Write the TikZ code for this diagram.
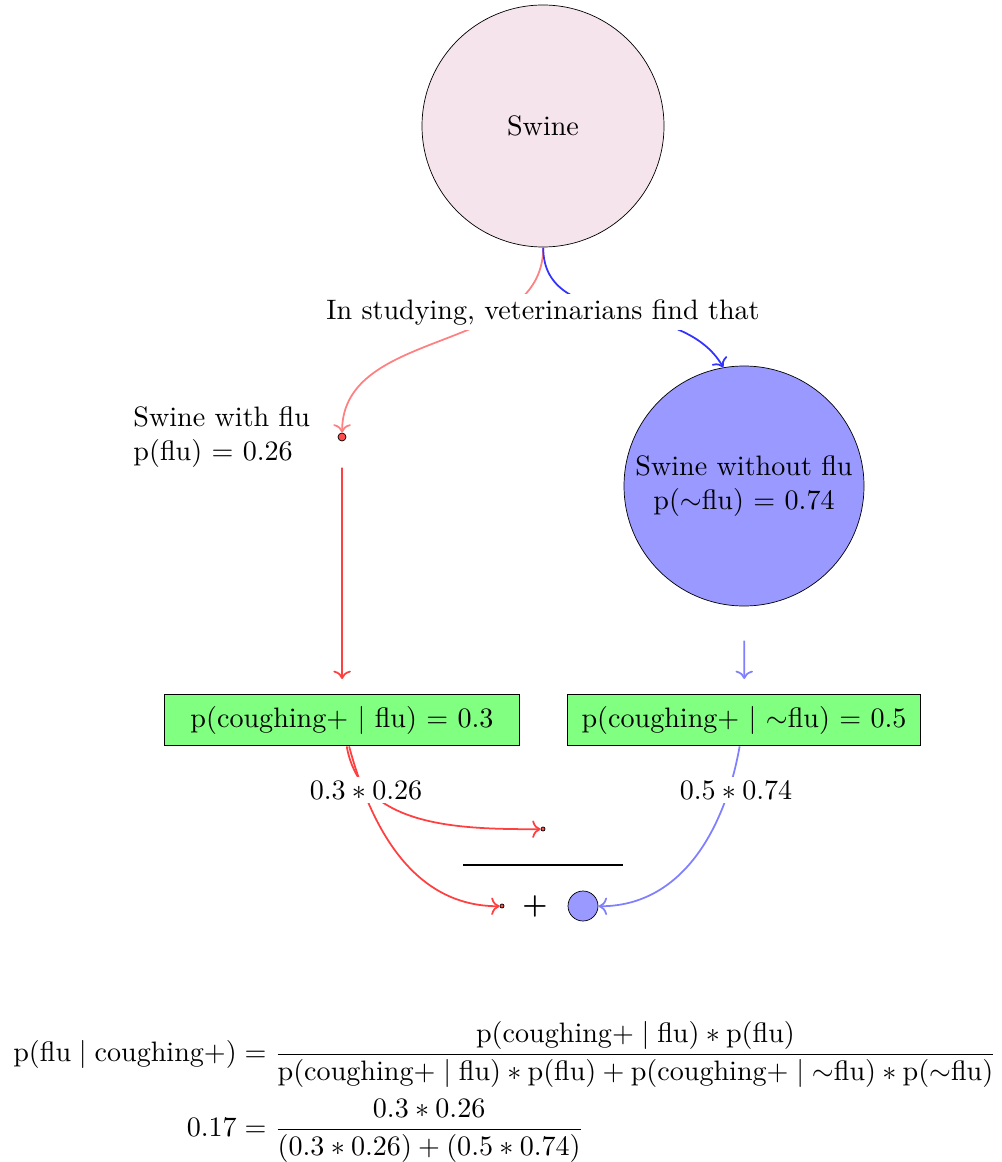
\documentclass[tikz,border=0pt]{standalone}
\usepackage{amsmath}
\usetikzlibrary{positioning, arrows.meta}
\definecolor{pinkfill}{RGB}{245,228,235}
\definecolor{bluefill}{RGB}{153,153,255}
\definecolor{greenfill}{RGB}{128,255,128}

\begin{document}
\begin{tikzpicture}[x=0.625cm, y=0.625cm, scale=1.6, transform shape,
    bigcircle/.style={draw, circle, minimum size=3.025cm, inner sep=0pt, align=center},
    probbox/.style={draw, fill=greenfill, minimum width=4.44cm, minimum height=0.64cm},
    dotmark/.style={draw, circle, fill=red!70, inner sep=0pt, minimum size=#1},
    prodtext/.style={fill=white, inner sep=1.5pt},
    tip/.style={-{To[scale=1.25]}},
    redlight/.style={red!50, line width=1pt, tip},
    redline/.style={red!75, line width=1pt, tip},
    bluedark/.style={blue!80, line width=1pt, tip},
    bluelight/.style={blue!50, line width=1pt, tip}
]
    \useasboundingbox (0,0) rectangle (20.02,-23.24);

    % Nodes
    \node[bigcircle, fill=pinkfill] (swine) at (10.86,-2.52) {Swine};
    \node[dotmark=0.1cm] (dotflu) at (6.84,-8.74) {};
    \node[left=0.22cm of dotflu, align=left] (flutext) {Swine with flu\\p(flu) $=$ 0.26};
    \node[bigcircle, fill=bluefill, minimum size=3cm] (nofl) at (14.88,-9.72) {Swine without flu\\p($\sim$flu) $=$ 0.74};
    \node[probbox] (box1) at (6.84,-14.4) {p(coughing+ $|$ flu) $=$ 0.3};
    \node[probbox, minimum width=4.42cm] (box2) at (14.88,-14.4) {p(coughing+ $|$ $\sim$flu) $=$ 0.5};
    \node[dotmark=0.05cm] (dotnum) at (10.86,-16.58) {};
    \node[dotmark=0.05cm] (dotden) at (10.04,-18.12) {};
    \node (plus) at (10.7,-18.12) {\textbf{+}};
    \node[draw, circle, fill=bluefill, minimum size=0.375cm, inner sep=0pt] (circsm) at (11.66,-18.12) {};
    \coordinate (barl) at (9.26,-17.3);
    \coordinate (barr) at (12.46,-17.3);

    % Edges
    \draw[redlight] (swine) to[out=-90, in=90] (dotflu);
    \draw[bluedark] (swine) to[out=-90, in=120] (nofl.100);
    \draw[redline, shorten <=0.52cm, shorten >=0.3cm] (dotflu) -- (box1);
    \draw[bluelight, shorten <=0.68cm, shorten >=0.3cm] (nofl) -- (box2);
    \draw[redline] (box1) to[out=-80, in=180] (dotnum);
    \draw[redline] (box1) to[out=-75, in=180] (dotden);
    \draw[bluelight] (box2) to[out=-100, in=0] (circsm);
    \draw[line width=1pt] (barl) -- (barr);

    % Labels over the edges
    \node[fill=white, inner sep=2pt] (intro) at (10.86,-6.24) {In studying, veterinarians find that};
    \node[prodtext] (prod1) at (7.32,-15.8) {$0.3 \ast 0.26$};
    \node[prodtext] (prod2) at (14.72,-15.8) {$0.5 \ast 0.74$};

    % Bayes
    \node (bayes) at (10.1,-21.84) {$\begin{aligned}
        \text{p(flu} \mid \text{coughing+)} &= \frac{\text{p(coughing+} \mid \text{flu)} \ast \text{p(flu)}}{\text{p(coughing+} \mid \text{flu)} \ast \text{p(flu)} + \text{p(coughing+} \mid {\sim}\text{flu)} \ast \text{p(}{\sim}\text{flu)}}\\
        0.17 &= \frac{0.3 \ast 0.26}{(0.3 \ast 0.26) + (0.5 \ast 0.74)}
    \end{aligned}$};
\end{tikzpicture}
\end{document}
